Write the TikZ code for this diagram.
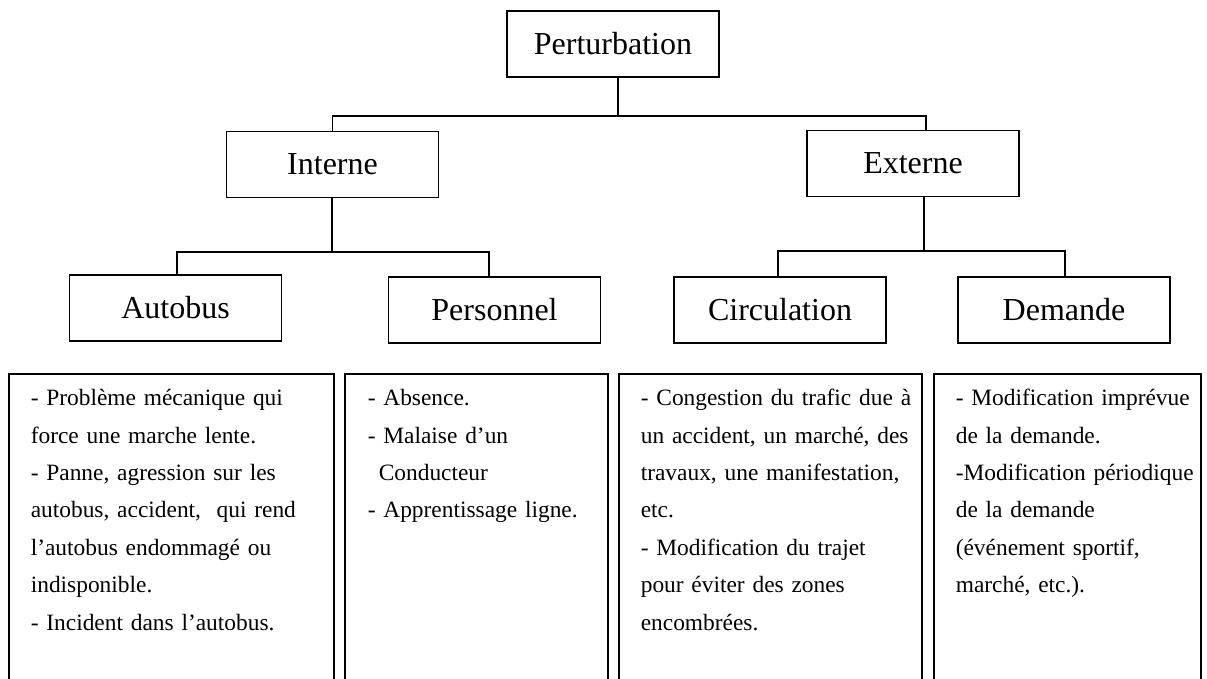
\documentclass[tikz,border=0pt]{standalone}
\usepackage{fontspec}
\setmainfont{Liberation Serif}
\begin{document}
\begin{tikzpicture}[x=1pt,y=-1pt,line width=1.6pt,line join=miter,
  catbox/.style={draw, line width=1.6pt, minimum width=212pt, minimum height=66pt,
    inner sep=0pt, font={\fontsize{32}{38}\selectfont}},
  descbox/.style={draw, line width=1.6pt, anchor=north west, minimum height=340pt, inner sep=0pt},
  desctext/.style={anchor=base west, inner sep=0pt, text width=400pt, align=left,
    font={\fontsize{23.4}{37.4}\selectfont}}]
\useasboundingbox (0,0) rectangle (1207,679);
\clip (0,0) rectangle (1207,679);

% category tree
\node[catbox] (P)  at (613,44)     {Perturbation};
\node[catbox] (I)  at (332.5,164.5) {Interne};
\node[catbox] (E)  at (913,163.5)  {Externe};
\node[catbox] (A)  at (175.5,308)  {Autobus};
\node[catbox] (Pe) at (494.5,310)  {Personnel};
\node[catbox] (C)  at (780,310)    {Circulation};
\node[catbox] (D)  at (1064,310)   {Demande};

% connectors
\coordinate (jP) at (618,116);
\draw (P.south -| jP) -- (jP);
\draw (jP) -| (I.north);
\draw (jP) -| ([xshift=13pt]E.north);

\coordinate (jI) at (332,252);
\draw (I.south -| jI) -- (jI);
\draw (jI) -| ([xshift=1.5pt]A.north);
\draw (jI) -| ([xshift=-5.5pt]Pe.north);

\coordinate (jE) at (924,251);
\draw (E.south -| jE) -- (jE);
\draw (jE) -| ([xshift=-2pt]C.north);
\draw (jE) -| ([xshift=1pt]D.north);

% description boxes
\node[descbox, minimum width=325pt] (bA)  at (8,373)   {};
\node[descbox, minimum width=263pt] (bPe) at (344,373) {};
\node[descbox, minimum width=303pt] (bC)  at (618,373) {};
\node[descbox, minimum width=267pt] (bD)  at (933,373) {};

\node[desctext] (tA) at ([xshift=22pt,yshift=-32.6pt]bA.north west)
  {- Problème mécanique qui\\
   force une marche lente.\\
   - Panne, agression sur les\\
   autobus, accident, \ qui rend\\
   l’autobus endommagé ou\\
   indisponible.\\
   - Incident dans l’autobus.};
\node[desctext] (tPe) at ([xshift=23pt,yshift=-32.6pt]bPe.north west)
  {- Absence.\\
   - Malaise d’un\\
   \hspace*{11pt}Conducteur\\
   - Apprentissage ligne.};
\node[desctext] (tC) at ([xshift=22pt,yshift=-32.6pt]bC.north west)
  {- Congestion du trafic due à\\
   un accident, un marché, des\\
   travaux, une manifestation,\\
   etc.\\
   - Modification du trajet\\
   pour éviter des zones\\
   encombrées.};
\node[desctext] (tD) at ([xshift=22pt,yshift=-32.6pt]bD.north west)
  {- Modification imprévue\\
   de la demande.\\
   -Modification périodique\\
   de la demande\\
   (événement sportif,\\
   marché, etc.).};
\end{tikzpicture}
\end{document}
